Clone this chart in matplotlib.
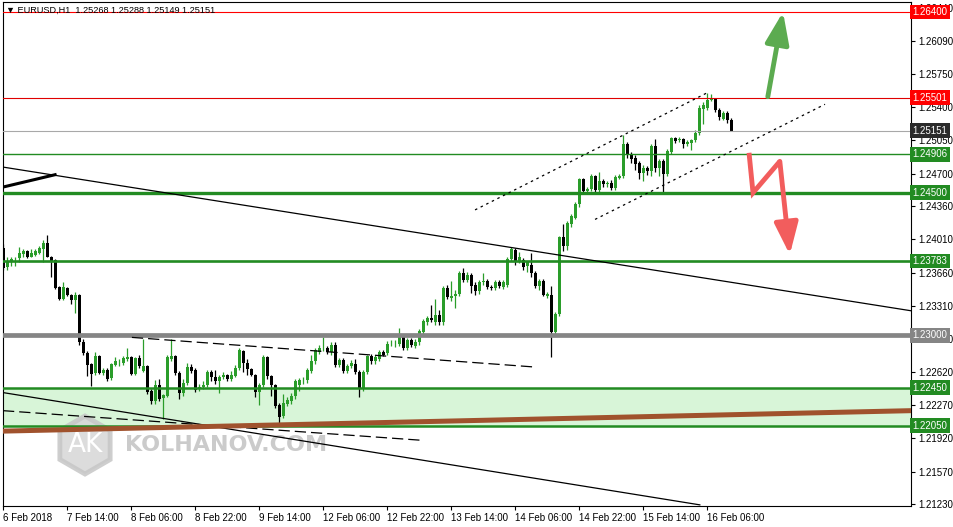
import matplotlib
matplotlib.use('Agg')
import matplotlib.pyplot as plt
import matplotlib.transforms as mtransforms
from matplotlib.patches import RegularPolygon
import numpy as np

plt.rcParams['font.family'] = ['Liberation Sans', 'DejaVu Sans']

# EURUSD H1 candles, 6 Feb 22:00 .. 16 Feb (one entry per bar)
opens = [
    1.2392, 1.2372, 1.2377, 1.2380, 1.2381, 1.2386, 1.2389, 1.2383, 1.2385, 1.2387,
    1.2391, 1.2397, 1.2383, 1.2379, 1.2351, 1.2338, 1.2350, 1.2343, 1.2337, 1.2343,
    1.2293, 1.2282, 1.2270, 1.2261, 1.2278, 1.2261, 1.2264, 1.2255, 1.2269, 1.2271,
    1.2271, 1.2275, 1.2277, 1.2260, 1.2276, 1.2263, 1.2268, 1.2242, 1.2231, 1.2248,
    1.2234, 1.2236, 1.2275, 1.2278, 1.2261, 1.2240, 1.2250, 1.2267, 1.2264, 1.2244,
    1.2246, 1.2248, 1.2262, 1.2256, 1.2252, 1.2256, 1.2258, 1.2254, 1.2257, 1.2266,
    1.2284, 1.2271, 1.2265, 1.2259, 1.2241, 1.2248, 1.2277, 1.2257, 1.2248, 1.2227,
    1.2215, 1.2228, 1.2231, 1.2236, 1.2248, 1.2253, 1.2253, 1.2263, 1.2273, 1.2283,
    1.2287, 1.2287, 1.2283, 1.2290, 1.2269, 1.2274, 1.2263, 1.2268, 1.2270, 1.2262,
    1.2244, 1.2262, 1.2278, 1.2273, 1.2275, 1.2283, 1.2282, 1.2291, 1.2291, 1.2291,
    1.2298, 1.2287, 1.2295, 1.2289, 1.2293, 1.2304, 1.2314, 1.2318, 1.2314, 1.2322,
    1.2314, 1.2350, 1.2339, 1.2341, 1.2344, 1.2366, 1.2358, 1.2364, 1.2353, 1.2347,
    1.2356, 1.2357, 1.2351, 1.2350, 1.2356, 1.2351, 1.2353, 1.2380, 1.2390, 1.2378,
    1.2379, 1.2373, 1.2374, 1.2366, 1.2352, 1.2357, 1.2342, 1.2343, 1.2304, 1.2323,
    1.2403, 1.2394, 1.2417, 1.2424, 1.2438, 1.2464, 1.2452, 1.2454, 1.2468, 1.2453,
    1.2462, 1.2459, 1.2460, 1.2455, 1.2466, 1.2468, 1.2501, 1.2491, 1.2487, 1.2481,
    1.2471, 1.2476, 1.2473, 1.2499, 1.2476, 1.2483, 1.2470, 1.2493, 1.2508, 1.2505,
    1.2506, 1.2501, 1.2502, 1.2505, 1.2513, 1.2538, 1.2539, 1.2548, 1.2549, 1.2537,
    1.2528, 1.2534, 1.25268,
]
closes = [
    1.2371, 1.2378, 1.2380, 1.2380, 1.2387, 1.2389, 1.2383, 1.2387, 1.2389, 1.2392,
    1.2397, 1.2383, 1.2377, 1.2350, 1.2338, 1.2351, 1.2343, 1.2337, 1.2343, 1.2293,
    1.2282, 1.2269, 1.2260, 1.2278, 1.2261, 1.2264, 1.2254, 1.2270, 1.2273, 1.2271,
    1.2276, 1.2277, 1.2260, 1.2276, 1.2268, 1.2268, 1.2241, 1.2231, 1.2248, 1.2233,
    1.2237, 1.2277, 1.2278, 1.2261, 1.2240, 1.2250, 1.2267, 1.2263, 1.2243, 1.2246,
    1.2248, 1.2262, 1.2256, 1.2252, 1.2256, 1.2258, 1.2254, 1.2259, 1.2266, 1.2285,
    1.2271, 1.2265, 1.2259, 1.2241, 1.2248, 1.2277, 1.2257, 1.2248, 1.2226, 1.2214,
    1.2229, 1.2232, 1.2236, 1.2252, 1.2253, 1.2253, 1.2264, 1.2273, 1.2285, 1.2287,
    1.2287, 1.2283, 1.2290, 1.2269, 1.2274, 1.2263, 1.2268, 1.2271, 1.2262, 1.2244,
    1.2262, 1.2278, 1.2273, 1.2277, 1.2283, 1.2280, 1.2291, 1.2291, 1.2291, 1.2299,
    1.2287, 1.2295, 1.2290, 1.2293, 1.2305, 1.2315, 1.2318, 1.2316, 1.2322, 1.2314,
    1.2350, 1.2340, 1.2341, 1.2344, 1.2366, 1.2358, 1.2364, 1.2352, 1.2347, 1.2356,
    1.2357, 1.2351, 1.2350, 1.2356, 1.2352, 1.2356, 1.2380, 1.2391, 1.2377, 1.2382,
    1.2372, 1.2377, 1.2366, 1.2352, 1.2357, 1.2343, 1.2344, 1.2304, 1.2323, 1.2403,
    1.2394, 1.2418, 1.2426, 1.2438, 1.2464, 1.2452, 1.2454, 1.2468, 1.2453, 1.2462,
    1.2459, 1.2460, 1.2455, 1.2467, 1.2468, 1.2501, 1.2491, 1.2486, 1.2480, 1.2471,
    1.2476, 1.2473, 1.2499, 1.2476, 1.2483, 1.2470, 1.2494, 1.2508, 1.2504, 1.2506,
    1.2501, 1.2503, 1.2505, 1.2513, 1.2539, 1.2542, 1.2548, 1.2548, 1.2537, 1.2530,
    1.2534, 1.2527, 1.25151,
]
highs = [
    1.2396, 1.2382, 1.2382, 1.2383, 1.2393, 1.2391, 1.2390, 1.2391, 1.2391, 1.2394,
    1.2400, 1.2406, 1.2384, 1.2380, 1.2352, 1.2356, 1.2351, 1.2344, 1.2346, 1.2344,
    1.2296, 1.2284, 1.2271, 1.2283, 1.2279, 1.2266, 1.2266, 1.2271, 1.2277, 1.2275,
    1.2278, 1.2287, 1.2278, 1.2277, 1.2280, 1.2296, 1.2269, 1.2244, 1.2253, 1.2254,
    1.2239, 1.2279, 1.2296, 1.2279, 1.2263, 1.2254, 1.2271, 1.2270, 1.2266, 1.2249,
    1.2252, 1.2264, 1.2264, 1.2264, 1.2258, 1.2262, 1.2260, 1.2263, 1.2269, 1.2287,
    1.2285, 1.2275, 1.2266, 1.2260, 1.2250, 1.2280, 1.2278, 1.2258, 1.2249, 1.2229,
    1.2238, 1.2235, 1.2240, 1.2254, 1.2255, 1.2256, 1.2266, 1.2280, 1.2287, 1.2290,
    1.2298, 1.2289, 1.2293, 1.2293, 1.2276, 1.2276, 1.2270, 1.2274, 1.2275, 1.2264,
    1.2264, 1.2280, 1.2281, 1.2280, 1.2285, 1.2285, 1.2294, 1.2295, 1.2295, 1.2308,
    1.2300, 1.2297, 1.2297, 1.2296, 1.2307, 1.2317, 1.2320, 1.2332, 1.2338, 1.2327,
    1.2352, 1.2353, 1.2357, 1.2348, 1.2368, 1.2371, 1.2367, 1.2366, 1.2356, 1.2358,
    1.2366, 1.2359, 1.2353, 1.2358, 1.2358, 1.2358, 1.2382, 1.2393, 1.2392, 1.2388,
    1.2381, 1.2378, 1.2387, 1.2368, 1.2359, 1.2359, 1.2346, 1.2352, 1.2325, 1.2405,
    1.2417, 1.2420, 1.2428, 1.2440, 1.2466, 1.2466, 1.2456, 1.2470, 1.2469, 1.2472,
    1.2464, 1.2462, 1.2463, 1.2469, 1.2470, 1.2511, 1.2503, 1.2493, 1.2490, 1.2483,
    1.2479, 1.2478, 1.2501, 1.2506, 1.2485, 1.2485, 1.2496, 1.2509, 1.2509, 1.2509,
    1.2508, 1.2505, 1.2507, 1.2516, 1.2542, 1.2545, 1.2555, 1.2554, 1.2550, 1.2539,
    1.2536, 1.2536, 1.25288,
]
lows = [
    1.2369, 1.2369, 1.2373, 1.2373, 1.2377, 1.2383, 1.2381, 1.2382, 1.2384, 1.2386,
    1.2377, 1.2382, 1.2362, 1.2349, 1.2337, 1.2337, 1.2341, 1.2333, 1.2324, 1.2290,
    1.2279, 1.2257, 1.2247, 1.2259, 1.2260, 1.2259, 1.2252, 1.2253, 1.2268, 1.2268,
    1.2269, 1.2273, 1.2258, 1.2258, 1.2266, 1.2262, 1.2239, 1.2228, 1.2228, 1.2231,
    1.2212, 1.2235, 1.2273, 1.2259, 1.2233, 1.2236, 1.2248, 1.2261, 1.2241, 1.2242,
    1.2244, 1.2246, 1.2252, 1.2249, 1.2240, 1.2254, 1.2252, 1.2252, 1.2256, 1.2264,
    1.2262, 1.2259, 1.2257, 1.2235, 1.2227, 1.2246, 1.2254, 1.2236, 1.2224, 1.2208,
    1.2213, 1.2226, 1.2228, 1.2233, 1.2242, 1.2249, 1.2250, 1.2261, 1.2270, 1.2281,
    1.2284, 1.2281, 1.2280, 1.2267, 1.2267, 1.2261, 1.2261, 1.2266, 1.2260, 1.2235,
    1.2242, 1.2260, 1.2270, 1.2270, 1.2273, 1.2278, 1.2280, 1.2289, 1.2288, 1.2289,
    1.2285, 1.2285, 1.2288, 1.2287, 1.2290, 1.2302, 1.2311, 1.2314, 1.2311, 1.2311,
    1.2311, 1.2338, 1.2336, 1.2329, 1.2342, 1.2356, 1.2356, 1.2345, 1.2343, 1.2344,
    1.2353, 1.2349, 1.2348, 1.2348, 1.2350, 1.2349, 1.2351, 1.2378, 1.2374, 1.2376,
    1.2369, 1.2367, 1.2361, 1.2350, 1.2348, 1.2341, 1.2339, 1.2277, 1.2302, 1.2321,
    1.2389, 1.2390, 1.2414, 1.2422, 1.2435, 1.2450, 1.2450, 1.2452, 1.2451, 1.2451,
    1.2456, 1.2456, 1.2453, 1.2453, 1.2464, 1.2466, 1.2487, 1.2481, 1.2474, 1.2464,
    1.2462, 1.2469, 1.2468, 1.2472, 1.2468, 1.2451, 1.2468, 1.2491, 1.2502, 1.2503,
    1.2497, 1.2499, 1.2495, 1.2503, 1.2511, 1.2522, 1.2537, 1.2546, 1.2535, 1.2527,
    1.2526, 1.2523, 1.25149,
]

# horizontal levels
levels = [1.26400, 1.25501, 1.25151, 1.24906, 1.24500, 1.23783, 1.23000, 1.22450, 1.22050]
zone = (1.22050, 1.22450)

yticks = [1.21230, 1.21570, 1.21920, 1.22270, 1.22620, 1.22960, 1.23310, 1.23660,
          1.24010, 1.24360, 1.24700, 1.25050, 1.25400, 1.25750, 1.26090, 1.26440]
xtick_pos = [0, 16, 32, 48, 64, 80, 96, 112, 128, 144, 160, 176]
xtick_labels = ['6 Feb 2018', '7 Feb 14:00', '8 Feb 06:00', '8 Feb 22:00', '9 Feb 14:00',
                '12 Feb 06:00', '12 Feb 22:00', '13 Feb 14:00', '14 Feb 06:00',
                '14 Feb 22:00', '15 Feb 14:00', '16 Feb 06:00']

# trend lines: (x0, y0, x1, y1)
trend_solid = [(-0.125, 1.2477, 226.9, 1.2326), (-0.125, 1.2240, 174.1, 1.2122)]
trend_thick = (-0.125, 1.2456, 12.9, 1.2469)
trend_dashed = [(32.1, 1.2298, 132.4, 1.2267), (-0.125, 1.2221, 104.1, 1.2190)]
channel = [(117.9, 1.2432, 175.9, 1.2555), (147.9, 1.2422, 205.4, 1.2543)]
brown_line = (-0.125, 1.21995, 226.9, 1.2221)

GREEN = '#2a9d2a'
LINE_GREEN = '#228b22'

fig = plt.figure(figsize=(9.54, 5.27), dpi=100)
ax = fig.add_axes([3 / 954, 21 / 527, 908 / 954, 504 / 527])
ax.set_xlim(-0.125, 226.9)
ax.set_ylim(1.21208, 1.26505)

# support zone
ax.axhspan(zone[0], zone[1], color='#d8f5d8', lw=0, zorder=0.1)

# candles
o = np.array(opens)
c = np.array(closes)
x = np.arange(len(o))
cols = np.where(c >= o, GREEN, '#000000')
ax.vlines(x, lows, highs, colors=cols, lw=0.9, zorder=2)
ax.bar(x, np.maximum(np.abs(c - o), 0.00003), 0.72, bottom=np.minimum(o, c),
       color=cols, linewidth=0, zorder=2.1)

# level lines + price boxes
level_style = {
    1.26400: ('#ff0000', 0.8, '#ff0000'),
    1.25501: ('#e00000', 0.8, '#ff0000'),
    1.25151: ('#a8a8a8', 0.8, '#2b2b2b'),
    1.24906: (LINE_GREEN, 1.0, LINE_GREEN),
    1.24500: (LINE_GREEN, 2.4, LINE_GREEN),
    1.23783: (LINE_GREEN, 1.9, LINE_GREEN),
    1.23000: ('#858585', 3.4, '#858585'),
    1.22450: (LINE_GREEN, 1.8, LINE_GREEN),
    1.22050: (LINE_GREEN, 1.8, LINE_GREEN),
}
for lv in levels:
    lc, lw, bc = level_style[lv]
    ax.axhline(lv, color=lc, lw=lw, zorder=3)
    ax.text(1.0015, lv, f'{lv:.5f}', transform=ax.get_yaxis_transform(),
            ha='left', va='center', color='white', fontsize=7, zorder=6, clip_on=False,
            bbox=dict(boxstyle='square,pad=0.25', fc=bc, ec='none'))

# trend lines
for x0, y0, x1, y1 in trend_solid:
    ax.plot([x0, x1], [y0, y1], color='black', lw=0.9, zorder=3)
ax.plot(trend_thick[::2], trend_thick[1::2], color='black', lw=2.2, zorder=3)
for x0, y0, x1, y1 in trend_dashed:
    ax.plot([x0, x1], [y0, y1], color='black', lw=0.9, ls=(0, (9, 4)), zorder=3)
for x0, y0, x1, y1 in channel:
    ax.plot([x0, x1], [y0, y1], color='black', lw=0.9, ls=(0, (2, 3)), zorder=3)
ax.plot(brown_line[::2], brown_line[1::2], color='#a0522d', lw=3.6, zorder=3.2)

# scenario arrows
ax.annotate('', xy=(194.9, 1.2640), xytext=(191.1, 1.2551),
            arrowprops=dict(arrowstyle='-|>,head_length=1.2,head_width=0.45', lw=3.5,
                            color='#5cab50', mutation_scale=16, shrinkA=0, shrinkB=0),
            zorder=4)
ax.plot([186.4, 187.4, 194.1], [1.2492, 1.2450, 1.2483], color='#f25d5d', lw=3.5,
        solid_capstyle='butt', solid_joinstyle='miter', zorder=4)
ax.annotate('', xy=(196.6, 1.2385), xytext=(194.1, 1.2483),
            arrowprops=dict(arrowstyle='-|>,head_length=1.2,head_width=0.45', lw=3.5,
                            color='#f25d5d', mutation_scale=16, shrinkA=0, shrinkB=0),
            zorder=4)

# header
ax.text(3 / 908, 0.984, '\u25bc EURUSD,H1  1.25268 1.25288 1.25149 1.25151',
        transform=ax.transAxes, fontsize=6.6, va='center', ha='left', zorder=5)

# watermark
hexa = RegularPolygon((85, 82), numVertices=6, radius=29, orientation=0,
                      transform=mtransforms.IdentityTransform(),
                      fc='#d6d6d6', ec='#c6c6c6', lw=3.5, alpha=0.85, zorder=0.6)
ax.add_patch(hexa)
ax.text(85 / 954, 82 / 527, 'AK', transform=fig.transFigure, ha='center', va='center',
        fontsize=19, color='white', fontfamily='DejaVu Sans', zorder=0.7)
ax.text(125 / 954, 82 / 527, 'KOLHANOV.COM', transform=fig.transFigure, ha='left',
        va='center', fontsize=16, fontweight='bold', color='#cbcbcb',
        fontfamily='DejaVu Sans', zorder=0.7)

# axes
ax.yaxis.tick_right()
ax.set_yticks(yticks)
ax.set_yticklabels([f'{t:.5f}' for t in yticks])
ax.tick_params(axis='y', length=3, width=0.8, pad=2, labelsize=7)
ax.set_xticks(xtick_pos)
ax.set_xticklabels(xtick_labels, ha='left')
ax.tick_params(axis='x', length=3, width=0.8, pad=2, labelsize=7)
for sp in ax.spines.values():
    sp.set_linewidth(0.8)

fig.savefig('out.png', dpi=100)
